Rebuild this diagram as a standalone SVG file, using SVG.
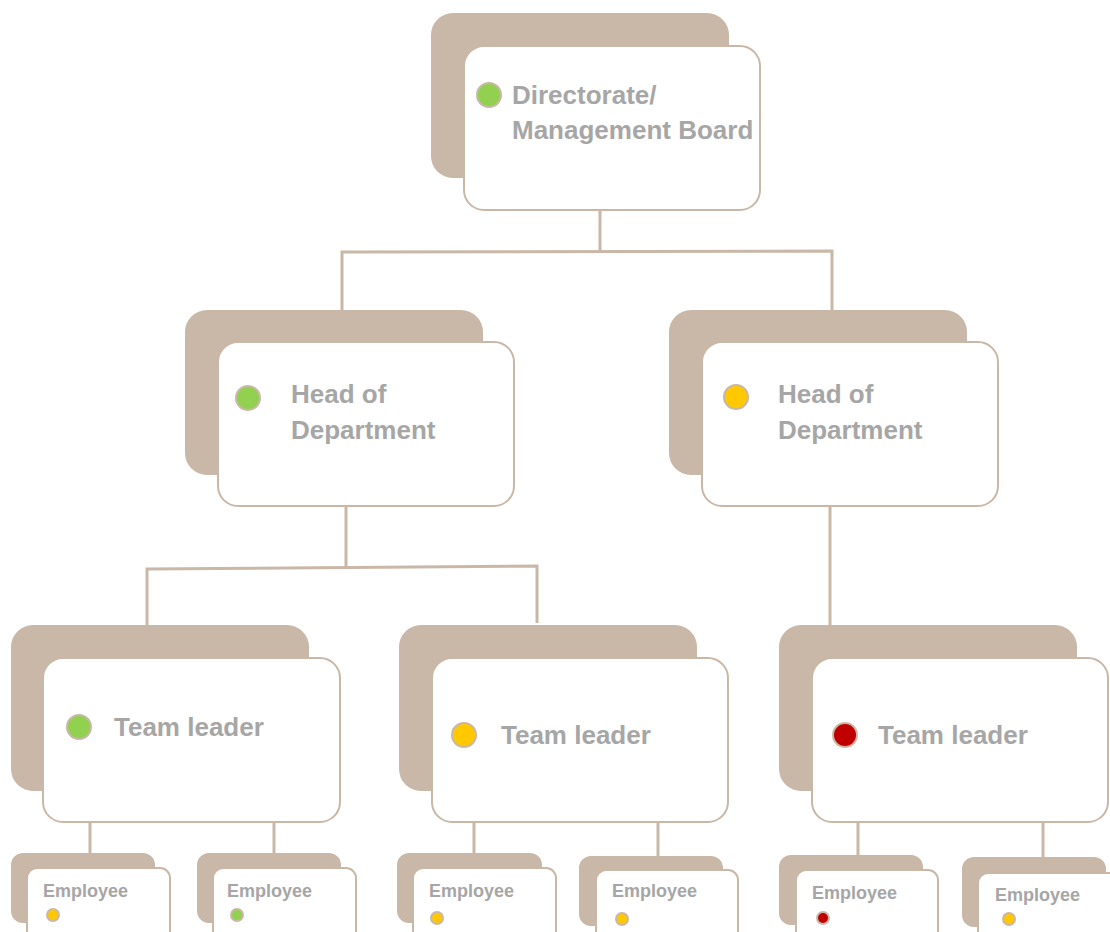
<svg xmlns="http://www.w3.org/2000/svg" width="1110" height="932" viewBox="0 0 1110 932">
<style>
.back{fill:#C9B8A7}
.front{fill:#FFFFFF;stroke:#C9B8A7;stroke-width:2}
.t{font-family:"Liberation Sans",Arial,sans-serif;font-weight:bold;fill:#A6A6A6;font-size:26px}
.te{font-family:"Liberation Sans",Arial,sans-serif;font-weight:bold;fill:#A6A6A6;font-size:18px}
.dot{stroke:#C9B8A7;stroke-width:2}
.g{fill:#92D050}.y{fill:#FFC800}.r{fill:#C00000}
.conn{fill:none;stroke:#C9B8A7;stroke-width:3}
</style>
<rect width="1110" height="932" fill="#FFFFFF"/>
<g id="connectors" class="conn">
<path d="M600 210 V251 M342 310 V252 L832 251 V310"/>
<path d="M346 506 V568 M147 625 V569 L537 566 V623"/>
<path d="M830 506 V625"/>
<path d="M90 822 V853 M274 822 V853"/>
<path d="M474 822 V853 M658 822 V856"/>
<path d="M858 822 V855 M1043 822 V857"/>
</g>
<g id="directorate">
<rect class="back" x="431" y="13" width="298" height="165" rx="22"/>
<rect class="front" x="464" y="46" width="296" height="164" rx="20"/>
<circle class="dot g" cx="489" cy="95" r="12"/>
<text class="t" x="512" y="104">Directorate/</text>
<text class="t" x="512" y="139">Management Board</text>
</g>
<g id="hod1">
<rect class="back" x="185" y="310" width="298" height="165" rx="22"/>
<rect class="front" x="218" y="342" width="296" height="164" rx="20"/>
<circle class="dot g" cx="248" cy="398" r="12"/>
<text class="t" x="291" y="403">Head of</text>
<text class="t" x="291" y="439">Department</text>
</g>
<g id="hod2">
<rect class="back" x="669" y="310" width="298" height="165" rx="22"/>
<rect class="front" x="702" y="342" width="296" height="164" rx="20"/>
<circle class="dot y" cx="736" cy="397" r="12"/>
<text class="t" x="778" y="403">Head of</text>
<text class="t" x="778" y="439">Department</text>
</g>
<g id="tl1">
<rect class="back" x="11" y="625" width="298" height="166" rx="22"/>
<rect class="front" x="43" y="658" width="297" height="164" rx="20"/>
<circle class="dot g" cx="79" cy="727" r="12"/>
<text class="t" x="114" y="736">Team leader</text>
</g>
<g id="tl2">
<rect class="back" x="399" y="625" width="298" height="166" rx="22"/>
<rect class="front" x="432" y="658" width="296" height="164" rx="20"/>
<circle class="dot y" cx="464" cy="735" r="12"/>
<text class="t" x="501" y="744">Team leader</text>
</g>
<g id="tl3">
<rect class="back" x="779" y="625" width="298" height="166" rx="22"/>
<rect class="front" x="812" y="658" width="296" height="164" rx="20"/>
<circle class="dot r" cx="845" cy="735" r="12"/>
<text class="t" x="878" y="744">Team leader</text>
</g>
<g id="emp1">
<rect class="back" x="11" y="853" width="144" height="70" rx="12"/>
<rect class="front" x="27" y="868" width="143" height="80" rx="10"/>
<text class="te" x="43" y="897">Employee</text>
<circle class="dot y" cx="53" cy="915" r="6"/>
</g>
<g id="emp2">
<rect class="back" x="197" y="853" width="144" height="70" rx="12"/>
<rect class="front" x="213" y="868" width="143" height="80" rx="10"/>
<text class="te" x="227" y="897">Employee</text>
<circle class="dot g" cx="237" cy="915" r="6"/>
</g>
<g id="emp3">
<rect class="back" x="397" y="853" width="145" height="70" rx="12"/>
<rect class="front" x="413" y="868" width="143" height="80" rx="10"/>
<text class="te" x="429" y="897">Employee</text>
<circle class="dot y" cx="437" cy="918" r="6"/>
</g>
<g id="emp4">
<rect class="back" x="579" y="856" width="144" height="70" rx="12"/>
<rect class="front" x="596" y="870" width="142" height="80" rx="10"/>
<text class="te" x="612" y="897">Employee</text>
<circle class="dot y" cx="622" cy="919" r="6"/>
</g>
<g id="emp5">
<rect class="back" x="779" y="855" width="144" height="70" rx="12"/>
<rect class="front" x="796" y="870" width="142" height="80" rx="10"/>
<text class="te" x="812" y="899">Employee</text>
<circle class="dot r" cx="823" cy="918" r="6"/>
</g>
<g id="emp6">
<rect class="back" x="962" y="857" width="144" height="70" rx="12"/>
<rect class="front" x="978" y="873" width="142" height="80" rx="10"/>
<text class="te" x="995" y="901">Employee</text>
<circle class="dot y" cx="1009" cy="919" r="6"/>
</g>
</svg>
